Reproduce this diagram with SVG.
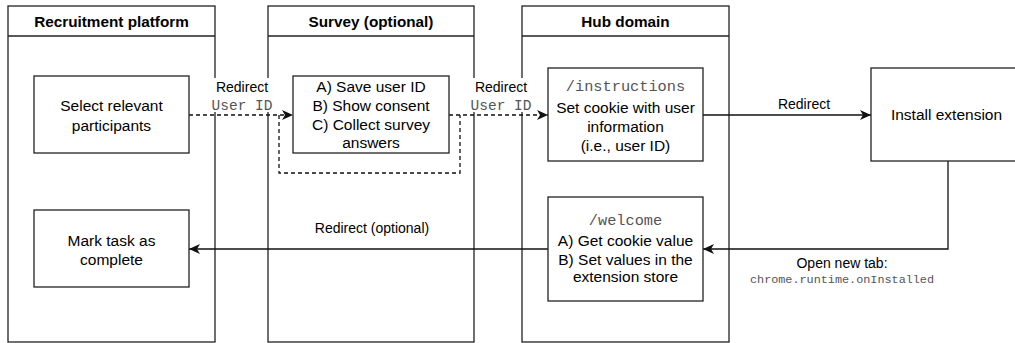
<svg xmlns="http://www.w3.org/2000/svg" width="1015" height="343" viewBox="0 0 1015 343">
<style>
.box{fill:#fff;stroke:#222;stroke-width:1.3}
.lane{fill:none;stroke:#222;stroke-width:1.3}
.t{font-family:"Liberation Sans",Arial,sans-serif;font-size:15.5px;fill:#000;text-anchor:middle}
.h{font-family:"Liberation Sans",Arial,sans-serif;font-size:15.3px;font-weight:bold;fill:#000;text-anchor:middle}
.l{font-family:"Liberation Sans",Arial,sans-serif;font-size:14px;fill:#000;text-anchor:middle}
.m{font-family:"Liberation Mono","Courier New",monospace;fill:#555;text-anchor:middle}
.c{fill:none;stroke:#111;stroke-width:1.3}
.d{stroke-dasharray:4 3}
</style>
<defs>
<marker id="arr" markerUnits="userSpaceOnUse" markerWidth="12" markerHeight="12" viewBox="0 0 12 12" refX="11" refY="6" orient="auto">
<path d="M0,1 L11,6 L0,11 L3,6 Z" fill="#111"/>
</marker>
</defs>
<rect width="1015" height="343" fill="#fff"/>
<g id="lane-recruitment">
<rect class="lane" x="8" y="6" width="207" height="336"/>
<line class="lane" x1="8" y1="36" x2="215" y2="36"/>
<text class="h" x="111.5" y="26.5">Recruitment platform</text>
</g>
<g id="lane-survey">
<rect class="lane" x="268" y="6" width="206" height="336"/>
<line class="lane" x1="268" y1="36" x2="474" y2="36"/>
<text class="h" x="371" y="26.5">Survey (optional)</text>
</g>
<g id="lane-hub">
<rect class="lane" x="522" y="6" width="207" height="336"/>
<line class="lane" x1="522" y1="36" x2="729" y2="36"/>
<text class="h" x="625.5" y="26.5">Hub domain</text>
</g>
<g id="connectors">
<path class="c d" d="M189,115 H293" marker-end="url(#arr)"/>
<path class="c d" d="M279,115 V173 H460 V115"/>
<path class="c d" d="M449,115 H548" marker-end="url(#arr)"/>
<path class="c" d="M703,115 H871" marker-end="url(#arr)"/>
<path class="c" d="M948,161 V249 H703" marker-end="url(#arr)"/>
<path class="c" d="M548,249 H189" marker-end="url(#arr)"/>
<rect x="214" y="78" width="56" height="34" fill="#fff"/>
<text class="l" x="242" y="92">Redirect</text>
<text class="m" x="242" y="110" font-size="14.5">User ID</text>
<rect x="473" y="78" width="56" height="34" fill="#fff"/>
<text class="l" x="501" y="92">Redirect</text>
<text class="m" x="501" y="110" font-size="14.5">User ID</text>
<text class="l" x="804" y="108.5">Redirect</text>
<text class="l" x="372" y="233">Redirect (optional)</text>
<text class="l" x="842" y="268">Open new tab:</text>
<text class="m" x="842" y="283" font-size="11.8">chrome.runtime.onInstalled</text>
</g>
<g id="node-select">
<rect class="box" x="34" y="76" width="155" height="77"/>
<text class="t" x="111.5" y="110.5">Select relevant</text>
<text class="t" x="111.5" y="130.5">participants</text>
</g>
<g id="node-mark">
<rect class="box" x="34" y="210" width="155" height="77"/>
<text class="t" x="111.5" y="245.5">Mark task as</text>
<text class="t" x="111.5" y="264.5">complete</text>
</g>
<g id="node-survey">
<rect class="box" x="293" y="76" width="156" height="77"/>
<text class="t" x="371" y="92.3">A) Save user ID</text>
<text class="t" x="371" y="110.8">B) Show consent</text>
<text class="t" x="371" y="130">C) Collect survey</text>
<text class="t" x="371" y="147.5">answers</text>
</g>
<g id="node-instructions">
<rect class="box" x="548" y="68" width="155" height="93"/>
<text class="m" x="625.5" y="91" font-size="15.3">/instructions</text>
<text class="t" x="625.5" y="113">Set cookie with user</text>
<text class="t" x="625.5" y="131.5">information</text>
<text class="t" x="625.5" y="151">(i.e., user ID)</text>
</g>
<g id="node-welcome">
<rect class="box" x="548" y="197" width="155" height="104"/>
<text class="m" x="625.5" y="224.5" font-size="15.3">/welcome</text>
<text class="t" x="625.5" y="246.3">A) Get cookie value</text>
<text class="t" x="625.5" y="264.6">B) Set values in the</text>
<text class="t" x="625.5" y="282.3">extension store</text>
</g>
<g id="node-install">
<rect class="box" x="871" y="68" width="152" height="93"/>
<text class="t" x="946.5" y="119.5">Install extension</text>
</g>
</svg>
